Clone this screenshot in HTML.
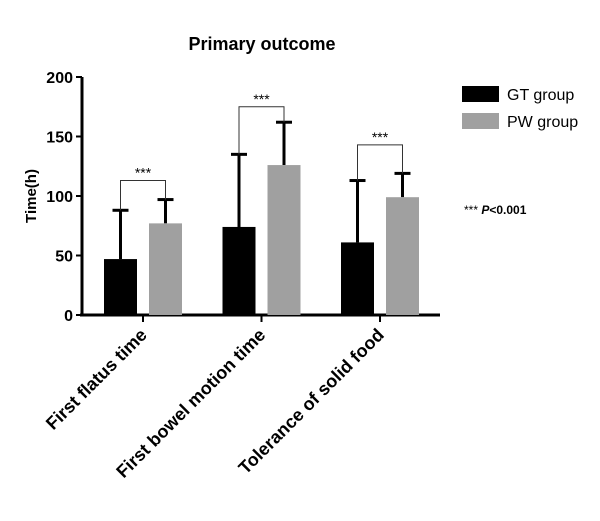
<!DOCTYPE html>
<html><head><meta charset="utf-8"><style>
body{margin:0;background:#fff}
text{font-family:"Liberation Sans",Arial,sans-serif;font-weight:bold;fill:#000}
</style></head><body>
<svg width="600" height="516">
<text x="262" y="50" font-size="18" text-anchor="middle">Primary outcome</text>
<g id="plot"></g>
<text transform="translate(36,196) rotate(-90)" font-size="15" text-anchor="middle">Time(h)</text>
<g>
<rect x="462" y="86" width="37" height="16" fill="#000"/>
<text x="507" y="100" font-size="16" style="font-weight:normal">GT group</text>
<rect x="462" y="113" width="37" height="16" fill="#a0a0a0"/>
<text x="507" y="127" font-size="16" style="font-weight:normal">PW group</text>
<text x="464" y="214" font-size="12" style="font-weight:normal">*** <tspan font-style="italic" font-weight="bold">P</tspan><tspan font-weight="bold">&lt;0.001</tspan></text>
</g>
</svg>
<script>
const categories=["First flatus time","First bowel motion time","Tolerance of solid food"];
const gtMeans=[47,74,61];
const gtErr=[41,61,52];
const pwMeans=[77,126,99];
const pwErr=[20,36,20];
const bracketY=[113,175,143];
const yTicks=[0,50,100,150,200];
const NS="http://www.w3.org/2000/svg";
const g=document.getElementById('plot');
const y=v=>315-v*238/200;
const cx=i=>143+i*118.5;
function mk(t,a){const e=document.createElementNS(NS,t);for(const k in a)e.setAttribute(k,a[k]);g.appendChild(e);return e;}
let e;
e=mk('line',{x1:82,y1:77,x2:82,y2:315,stroke:'#000','stroke-width':3});


e=mk('line',{x1:80,y1:315,x2:440,y2:315,stroke:'#000','stroke-width':3});


yTicks.forEach(v=>{
 e=mk('line',{x1:76,y1:y(v),x2:82,y2:y(v),stroke:'#000','stroke-width':2});
 
 
 e=mk('text',{x:73,y:y(v)+6,'font-size':16,'text-anchor':'end'});e.textContent=v;
 
 
});
categories.forEach((c,i)=>{
 const x=cx(i);
 e=mk('line',{x1:x,y1:315,x2:x,y2:322,stroke:'#000','stroke-width':2});
 
 
 e=mk('text',{transform:`translate(${x+5},${336}) rotate(-45)`,'font-size':18,'text-anchor':'end'});e.textContent=c;
 
 
 [[gtMeans,gtErr,'#000',-39,'gt'],[pwMeans,pwErr,'#a0a0a0',6,'pw']].forEach(([m,er,col,off,nm])=>{
  const bx=x+off,bw=33,mx=bx+bw/2;
  e=mk('line',{x1:mx,y1:y(m[i]),x2:mx,y2:y(m[i]+er[i]),stroke:'#000','stroke-width':3});
  
  
  e=mk('line',{x1:mx-8,y1:y(m[i]+er[i]),x2:mx+8,y2:y(m[i]+er[i]),stroke:'#000','stroke-width':3});
  
  
  e=mk('rect',{x:bx,y:y(m[i]),width:bw,height:315-y(m[i]),fill:col});
  
  
 });
 const x1=x-22.5,x2=x+22.5,by=y(bracketY[i]);
 e=mk('polyline',{points:`${x1},${y(gtMeans[i]+gtErr[i])} ${x1},${by} ${x2},${by} ${x2},${y(pwMeans[i]+pwErr[i])}`,fill:'none',stroke:'#333','stroke-width':1});
 
 
 e=mk('text',{x:x,y:by-3,'font-size':14,'text-anchor':'middle',style:'font-weight:normal'});e.textContent='***';
 
 
});
</script>
</body></html>
